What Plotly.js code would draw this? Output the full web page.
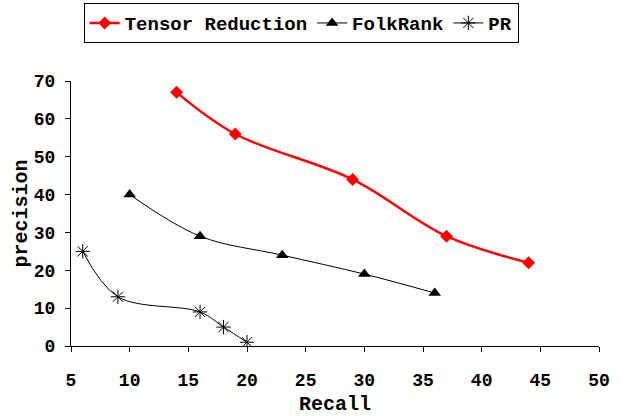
<!DOCTYPE html>
<html>
<head>
<meta charset="utf-8">
<script src="https://cdn.plot.ly/plotly-3.0.1.min.js"></script>
<style>html,body{margin:0;padding:0;background:#fff;}#chart{width:632px;height:416px;}</style>
</head>
<body>
<div id="chart"></div>
<script>
const seriesNames = ["Tensor Reduction", "FolkRank", "PR"];
const trRecall = [14, 19, 29, 37, 44];
const trPrecision = [67, 56, 44, 29, 22];
const frRecall = [10, 16, 23, 30, 36];
const frPrecision = [40, 29, 24, 19, 14];
const prRecall = [6, 9, 16, 18, 20];
const prPrecision = [25, 13, 9, 5, 1];
const xTitle = "Recall";
const yTitle = "precision";

const FONT = "Liberation Mono, Courier New, monospace";
const f = (s) => ({family: FONT, size: s, color: "#000", weight: "bold"});

const traces = [
  {x: trRecall, y: trPrecision, name: seriesNames[0], type: "scatter", mode: "lines+markers",
   line: {color: "#ff0000", width: 2.5, shape: "spline", smoothing: 1},
   marker: {symbol: "diamond", size: 10, color: "#ff0000"}},
  {x: frRecall, y: frPrecision, name: seriesNames[1], type: "scatter", mode: "lines+markers",
   line: {color: "#000", width: 1, shape: "spline", smoothing: 1},
   marker: {symbol: "triangle-up", size: 11, color: "#000"}},
  {x: prRecall, y: prPrecision, name: seriesNames[2], type: "scatter", mode: "lines+markers",
   line: {color: "#000", width: 1, shape: "spline", smoothing: 1},
   marker: {symbol: "asterisk-open", size: 12, color: "#000", line: {color: "#000", width: 1}}}
];

const layout = {
  width: 632, height: 416,
  margin: {l: 71, r: 33, t: 81, b: 70, autoexpand: false},
  paper_bgcolor: "#fff", plot_bgcolor: "#fff",
  showlegend: true,
  legend: {orientation: "h", x: 0.024, xanchor: "left", y: 1.294, yanchor: "top",
           bordercolor: "#000", borderwidth: 1, bgcolor: "#fff", font: f(19),
           itemwidth: 30, tracegroupgap: 0},
  xaxis: {range: [5, 50], dtick: 5, tick0: 5, showline: true, linecolor: "#000", linewidth: 1,
          ticks: "outside", ticklen: 5, tickcolor: "#000", showgrid: false, zeroline: false,
          tickfont: f(18), ticklabelstandoff: 12, automargin: false,
          title: {text: xTitle, font: f(20), standoff: 6}},
  yaxis: {range: [0, 70], dtick: 10, showline: true, linecolor: "#000", linewidth: 1,
          ticks: "outside", ticklen: 5, tickcolor: "#000", showgrid: false, zeroline: false,
          tickfont: f(18), ticklabelstandoff: 6, automargin: false,
          title: {text: yTitle, font: f(20), standoff: 0}}
};

Plotly.newPlot("chart", traces, layout, {displayModeBar: false, staticPlot: true});
</script>
</body>
</html>
